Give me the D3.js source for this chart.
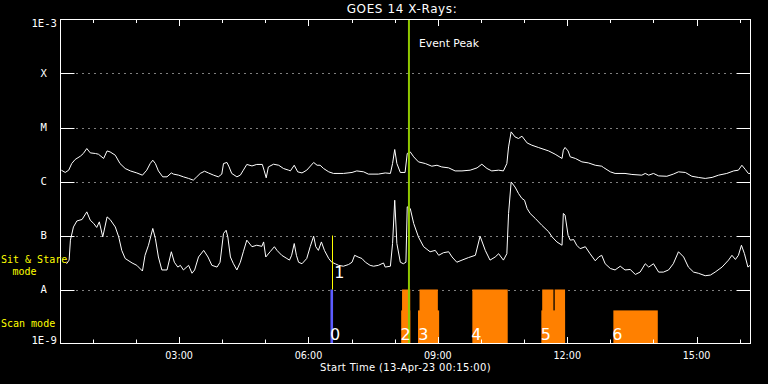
<!DOCTYPE html>
<html><head><meta charset="utf-8">
<script src="https://cdn.jsdelivr.net/npm/d3@7"></script>
<style>html,body{margin:0;padding:0;background:#000;} svg{display:block;}</style>
</head><body>
<svg id="c" width="768" height="384"></svg>
<script>
// ---- DATA ----
const titleText = "GOES 14 X-Rays:";
const xAxisTitle = "Start Time (13-Apr-23 00:15:00)";
const timeDomain = [0.25, 16.25];          // hours since 13-Apr-23 00:00
const fluxDomain = [1e-9, 1e-3];           // W/m^2
const classLevels = [1e-3, 1e-4, 1e-5, 1e-6, 1e-7, 1e-8, 1e-9];
const classLabels = ["1E-3", "X", "M", "C", "B", "A", "1E-9"];
const gridLevels = [1e-4, 1e-5, 1e-6, 1e-7, 1e-8];

// GOES 1-8 A channel  [hour, flux]
const longChannel = [[0.27,1.62e-6],[0.36,1.47e-6],[0.44,1.62e-6],[0.51,2.15e-6],[0.59,2.56e-6],[0.71,2.94e-6],[0.78,3.3e-6],[0.86,4.08e-6],[0.94,3.39e-6],[1.06,3.3e-6],[1.13,3.2e-6],[1.25,2.67e-6],[1.33,3.68e-6],[1.40,3.53e-6],[1.52,3.07e-6],[1.63,2.15e-6],[1.75,1.74e-6],[1.87,1.57e-6],[2.02,1.44e-6],[2.15,1.31e-6],[2.25,1.62e-6],[2.33,2.15e-6],[2.39,2.48e-6],[2.45,2.15e-6],[2.52,1.57e-6],[2.62,1.22e-6],[2.72,1.22e-6],[2.82,1.44e-6],[2.87,1.37e-6],[2.99,1.31e-6],[3.10,1.22e-6],[3.22,1.14e-6],[3.33,1.06e-6],[3.41,1.22e-6],[3.49,1.41e-6],[3.59,1.55e-6],[3.68,1.44e-6],[3.80,1.31e-6],[3.91,1.22e-6],[3.99,1.37e-6],[4.03,2.15e-6],[4.11,2.25e-6],[4.16,1.86e-6],[4.22,1.41e-6],[4.34,1.22e-6],[4.42,1.31e-6],[4.49,1.62e-6],[4.57,2.07e-6],[4.69,1.94e-6],[4.80,2.07e-6],[4.93,2.07e-6],[4.97,1.62e-6],[5.02,1.17e-6],[5.07,1.86e-6],[5.19,2.09e-6],[5.31,2.0e-6],[5.42,1.74e-6],[5.54,1.62e-6],[5.58,1.57e-6],[5.67,2.0e-6],[5.75,1.51e-6],[5.85,1.44e-6],[5.96,1.62e-6],[6.12,2.25e-6],[6.20,2.0e-6],[6.27,2.0e-6],[6.35,1.74e-6],[6.47,1.51e-6],[6.58,1.41e-6],[6.81,1.41e-6],[7.01,1.47e-6],[7.12,1.57e-6],[7.28,1.51e-6],[7.39,1.37e-6],[7.62,1.37e-6],[7.78,1.44e-6],[7.90,1.41e-6],[7.95,2.15e-6],[8.00,3.91e-6],[8.05,2.15e-6],[8.13,1.47e-6],[8.24,1.47e-6],[8.29,3.3e-6],[8.36,3.53e-6],[8.44,2.86e-6],[8.55,2.31e-6],[8.71,2.15e-6],[8.86,1.92e-6],[8.98,2.0e-6],[9.09,1.86e-6],[9.25,1.79e-6],[9.40,1.57e-6],[9.56,1.57e-6],[9.75,1.62e-6],[9.91,1.79e-6],[10.02,2.09e-6],[10.14,1.74e-6],[10.25,1.57e-6],[10.41,1.62e-6],[10.52,1.57e-6],[10.60,2.15e-6],[10.64,4.37e-6],[10.70,8.3e-6],[10.79,6.69e-6],[10.87,6.25e-6],[10.95,6.9e-6],[11.07,5.18e-6],[11.18,4.7e-6],[11.33,4.27e-6],[11.57,3.68e-6],[11.72,3.2e-6],[11.88,2.67e-6],[11.91,3.8e-6],[11.95,4.27e-6],[12.02,3.68e-6],[12.07,2.86e-6],[12.19,2.67e-6],[12.34,2.31e-6],[12.49,2.21e-6],[12.65,2.0e-6],[12.80,1.92e-6],[12.84,1.82e-6],[13.00,1.51e-6],[13.11,1.41e-6],[13.34,1.41e-6],[13.50,1.35e-6],[13.73,1.31e-6],[13.81,1.41e-6],[13.89,1.31e-6],[14.00,1.41e-6],[14.12,1.27e-6],[14.31,1.25e-6],[14.46,1.37e-6],[14.58,1.51e-6],[14.74,1.47e-6],[14.89,1.25e-6],[15.04,1.19e-6],[15.20,1.14e-6],[15.36,1.19e-6],[15.51,1.31e-6],[15.70,1.41e-6],[15.86,1.57e-6],[15.97,1.62e-6],[16.05,2.0e-6],[16.13,1.67e-6],[16.20,1.41e-6],[16.24,1.41e-6]];

// GOES 0.5-4 A channel [hour, flux]
const shortChannel = [[0.39,3.0e-8],[0.45,3.5e-8],[0.48,8.2e-8],[0.55,1.44e-7],[0.63,1.86e-7],[0.75,1.98e-7],[0.86,2.74e-7],[0.94,1.92e-7],[1.02,1.67e-7],[1.09,1.41e-7],[1.15,1.79e-7],[1.23,9.4e-8],[1.33,2.21e-7],[1.40,1.98e-7],[1.52,1.44e-7],[1.60,9.4e-8],[1.67,5.3e-8],[1.75,3.75e-8],[1.91,3.1e-8],[2.02,2.8e-8],[2.15,2.2e-8],[2.21,4.3e-8],[2.29,6.6e-8],[2.39,1.35e-7],[2.45,8.8e-8],[2.52,4.0e-8],[2.60,2.3e-8],[2.72,2.3e-8],[2.82,5.0e-8],[2.89,3.2e-8],[2.97,2.6e-8],[3.03,2.8e-8],[3.10,2.3e-8],[3.22,2.8e-8],[3.30,2.0e-8],[3.36,2.3e-8],[3.45,4.0e-8],[3.57,5.3e-8],[3.67,4.0e-8],[3.76,2.8e-8],[3.88,2.6e-8],[3.95,3.2e-8],[4.03,1.09e-7],[4.09,1.25e-7],[4.13,9.4e-8],[4.19,4.0e-8],[4.26,3.0e-8],[4.34,2.3e-8],[4.42,3.2e-8],[4.49,5.0e-8],[4.57,8.2e-8],[4.69,6.2e-8],[4.80,6.6e-8],[4.92,6.3e-8],[4.96,7.6e-8],[5.01,4.0e-8],[5.11,5.0e-8],[5.21,6.2e-8],[5.27,5.3e-8],[5.38,4.3e-8],[5.50,3.75e-8],[5.56,3.5e-8],[5.61,4.3e-8],[5.67,7.1e-8],[5.72,4.3e-8],[5.77,3.2e-8],[5.85,3.0e-8],[5.96,3.75e-8],[6.04,6.2e-8],[6.12,9.7e-8],[6.17,6.2e-8],[6.23,5.3e-8],[6.30,7.6e-8],[6.37,5.3e-8],[6.47,3.75e-8],[6.54,3.2e-8],[6.62,3.0e-8],[6.70,2.8e-8],[6.81,2.7e-8],[6.93,2.9e-8],[7.01,3.2e-8],[7.07,4.3e-8],[7.15,4.0e-8],[7.24,3.75e-8],[7.32,3.2e-8],[7.43,2.8e-8],[7.51,2.7e-8],[7.62,2.8e-8],[7.74,3.1e-8],[7.78,2.6e-8],[7.90,2.7e-8],[7.95,7.1e-8],[8.00,4.5e-7],[8.05,7.1e-8],[8.13,3.2e-8],[8.20,3.0e-8],[8.26,3.2e-8],[8.29,3.4e-7],[8.36,3.16e-7],[8.44,1.67e-7],[8.55,9.4e-8],[8.67,6.2e-8],[8.82,5.0e-8],[8.94,5.3e-8],[9.02,4.3e-8],[9.13,4.8e-8],[9.25,5.0e-8],[9.33,4.0e-8],[9.44,3.2e-8],[9.56,3.5e-8],[9.71,3.9e-8],[9.87,4.3e-8],[9.98,9.7e-8],[10.10,5.3e-8],[10.21,3.5e-8],[10.33,4.0e-8],[10.41,4.6e-8],[10.52,3.5e-8],[10.60,4.6e-8],[10.64,2.56e-7],[10.70,9.8e-7],[10.79,7.9e-7],[10.87,6.0e-7],[10.95,4.85e-7],[11.01,4.5e-7],[11.07,3.16e-7],[11.14,2.56e-7],[11.26,2.07e-7],[11.41,1.55e-7],[11.57,1.17e-7],[11.65,9.4e-8],[11.76,7.6e-8],[11.88,6.6e-8],[11.91,2.56e-7],[11.95,2.38e-7],[12.02,1.01e-7],[12.07,8.2e-8],[12.15,8.4e-8],[12.22,6.6e-8],[12.30,5.7e-8],[12.42,6.2e-8],[12.53,4.6e-8],[12.65,3.4e-8],[12.73,4.0e-8],[12.80,4.3e-8],[12.88,3.0e-8],[13.00,2.45e-8],[13.11,2.3e-8],[13.23,2.7e-8],[13.34,2.3e-8],[13.46,2.35e-8],[13.58,1.9e-8],[13.69,2.1e-8],[13.81,3.0e-8],[13.89,2.6e-8],[14.00,3.0e-8],[14.12,2.1e-8],[14.23,2.1e-8],[14.35,2.3e-8],[14.46,3.0e-8],[14.58,5.0e-8],[14.70,4.0e-8],[14.81,2.6e-8],[14.93,2.1e-8],[15.04,2.0e-8],[15.20,1.8e-8],[15.32,1.85e-8],[15.43,2.1e-8],[15.59,2.6e-8],[15.74,3.5e-8],[15.82,4.3e-8],[15.90,3.6e-8],[15.97,4.3e-8],[16.04,6.6e-8],[16.11,4.6e-8],[16.19,2.6e-8],[16.24,2.8e-8]];

// observation blocks: [startHour, endHour, topFlux]
const scanBlocks = [[8.15,8.36,4.1e-9],[8.17,8.36,1e-8],[8.54,9.03,4.1e-9],[8.575,9.0,1e-8],[9.80,10.62,1e-8],[11.40,11.95,4.1e-9],[11.42,11.68,1e-8],[11.71,11.95,1e-8],[13.07,14.10,4.1e-9]];
const stareBlocks = [[6.51,6.57,1e-8]];
const stareEvent = {hour: 6.557, from: 1e-8, to: 1e-7};
const eventPeakHour = 8.33;
const eventIds = ["0","1","2","3","4","5","6"];
const eventHours = [6.52, 6.62, 8.16, 8.57, 9.80, 11.41, 13.07];
const eventRow = ["scan","stare","scan","scan","scan","scan","scan"];

// ---- CHART ----
const W = 768, H = 384;
const m = {l: 60.5, r: 750.5, t: 19.5, b: 343.5};
const svg = d3.select('#c');
const x = d3.scaleLinear().domain(timeDomain).range([m.l, m.r]);
const y = d3.scaleLog().domain(fluxDomain).range([m.b, m.t]);

svg.append('rect').attr('width', W).attr('height', H).attr('fill', '#000');

// dotted grid
svg.append('g').selectAll('line').data(gridLevels).join('line')
  .attr('x1', m.l + 16).attr('x2', m.r - 14)
  .attr('y1', d => Math.round(y(d)) + 0.5).attr('y2', d => Math.round(y(d)) + 0.5)
  .attr('stroke', '#fff').attr('stroke-width', 1).attr('stroke-dasharray', '1,5');

// bars
const bars = svg.append('g');
bars.selectAll('rect.scan').data(scanBlocks).join('rect').attr('class','scan')
  .attr('x', d => x(d[0])).attr('width', d => x(d[1]) - x(d[0]))
  .attr('y', d => y(d[2])).attr('height', d => m.b - y(d[2]))
  .attr('fill', '#ff8000');
bars.selectAll('rect.stare').data(stareBlocks).join('rect').attr('class','stare')
  .attr('x', d => x(d[0])).attr('width', d => x(d[1]) - x(d[0]))
  .attr('y', d => y(d[2])).attr('height', d => m.b - y(d[2]))
  .attr('fill', '#5c5cff');

// curves
const line = d3.line().x(d => x(d[0])).y(d => y(d[1]));
[longChannel, shortChannel].forEach(s => {
  svg.append('path').datum(s).attr('d', line)
    .attr('fill', 'none').attr('stroke', '#fff').attr('stroke-width', 1);
});

// sit & stare event line
svg.append('line')
  .attr('x1', Math.round(x(stareEvent.hour)) + 0.5).attr('x2', Math.round(x(stareEvent.hour)) + 0.5)
  .attr('y1', y(stareEvent.to)).attr('y2', y(stareEvent.from))
  .attr('stroke', '#ffff00').attr('stroke-width', 1);

// event peak
svg.append('line')
  .attr('x1', x(eventPeakHour)).attr('x2', x(eventPeakHour))
  .attr('y1', m.t).attr('y2', m.b)
  .attr('stroke', '#90c800').attr('stroke-width', 2);
svg.append('text').attr('x', x(eventPeakHour) + 10).attr('y', 46.5)
  .attr('fill', '#fff').attr('font-family', 'DejaVu Sans').attr('font-size', 10.8)
  .text('Event Peak');

// event labels
svg.append('g').selectAll('text').data(eventIds).join('text')
  .attr('x', (d, i) => x(eventHours[i]) - 1)
  .attr('y', (d, i) => eventRow[i] === 'scan' ? 339.5 : 277.5)
  .attr('fill', '#fff').attr('font-family', 'DejaVu Sans')
  .attr('font-size', 16).text(d => d);

// frame
svg.append('rect').attr('x', m.l).attr('y', m.t)
  .attr('width', m.r - m.l).attr('height', m.b - m.t)
  .attr('fill', 'none').attr('stroke', '#fff').attr('stroke-width', 1);

// y ticks (left and right)
const yt = svg.append('g');
yt.selectAll('line.l').data(gridLevels).join('line').attr('class','l')
  .attr('x1', m.l).attr('x2', m.l + 14)
  .attr('y1', d => Math.round(y(d)) + 0.5).attr('y2', d => Math.round(y(d)) + 0.5)
  .attr('stroke', '#fff');
yt.selectAll('line.r').data(gridLevels).join('line').attr('class','r')
  .attr('x1', m.r - 14).attr('x2', m.r)
  .attr('y1', d => Math.round(y(d)) + 0.5).attr('y2', d => Math.round(y(d)) + 0.5)
  .attr('stroke', '#fff');

// y labels
svg.append('g').selectAll('text').data(classLevels).join('text')
  .attr('x', (d, i) => (i === 0 || i === classLevels.length - 1) ? 57 : 43.7)
  .attr('y', (d, i) => i === 0 ? y(d) + 7.5 : (i === classLevels.length - 1 ? y(d) + 0.7 : y(d) + 3.9))
  .attr('text-anchor', (d, i) => (i === 0 || i === classLevels.length - 1) ? 'end' : 'middle')
  .attr('fill', '#fff').attr('font-family', 'DejaVu Sans Mono').attr('font-size', 10.6)
  .text((d, i) => classLabels[i]);

// x ticks (top and bottom, inward)
const hours = x.ticks(16);
const xt = svg.append('g');
xt.selectAll('line.t').data(hours).join('line').attr('class','t')
  .attr('x1', d => Math.round(x(d)) + 0.5).attr('x2', d => Math.round(x(d)) + 0.5)
  .attr('y1', m.t).attr('y2', d => m.t + (d % 3 === 0 ? 6.5 : 3.5))
  .attr('stroke', '#fff');
xt.selectAll('line.b').data(hours).join('line').attr('class','b')
  .attr('x1', d => Math.round(x(d)) + 0.5).attr('x2', d => Math.round(x(d)) + 0.5)
  .attr('y1', m.b).attr('y2', d => m.b - (d % 3 === 0 ? 6.5 : 4))
  .attr('stroke', '#fff');
svg.append('g').selectAll('text').data(hours.filter(h => h % 3 === 0)).join('text')
  .attr('x', d => x(d)).attr('y', 359)
  .attr('text-anchor', 'middle').attr('fill', '#fff')
  .attr('font-family', 'DejaVu Sans').attr('font-size', 9.6)
  .text(d => d3.format('02d')(d) + ':00');

// titles
svg.append('text').attr('x', 402).attr('y', 13.3).attr('text-anchor', 'middle')
  .attr('fill', '#fff').attr('font-family', 'DejaVu Sans').attr('font-size', 12)
  .attr('letter-spacing', 0.6).text(titleText);
svg.append('text').attr('x', (m.l + m.r) / 2).attr('y', 371).attr('text-anchor', 'middle')
  .attr('fill', '#fff').attr('font-family', 'DejaVu Sans').attr('font-size', 10)
  .attr('letter-spacing', 0.35).text(xAxisTitle);

// mode labels
const ml = svg.append('g').attr('fill', '#ffff00').attr('font-family', 'DejaVu Sans Mono').attr('font-size', 10);
ml.append('text').attr('x', 1).attr('y', 263.3).text('Sit & Stare');
ml.append('text').attr('x', 12.5).attr('y', 275).text('mode');
ml.append('text').attr('x', 1).attr('y', 327.3).text('Scan mode');
</script>
</body></html>
